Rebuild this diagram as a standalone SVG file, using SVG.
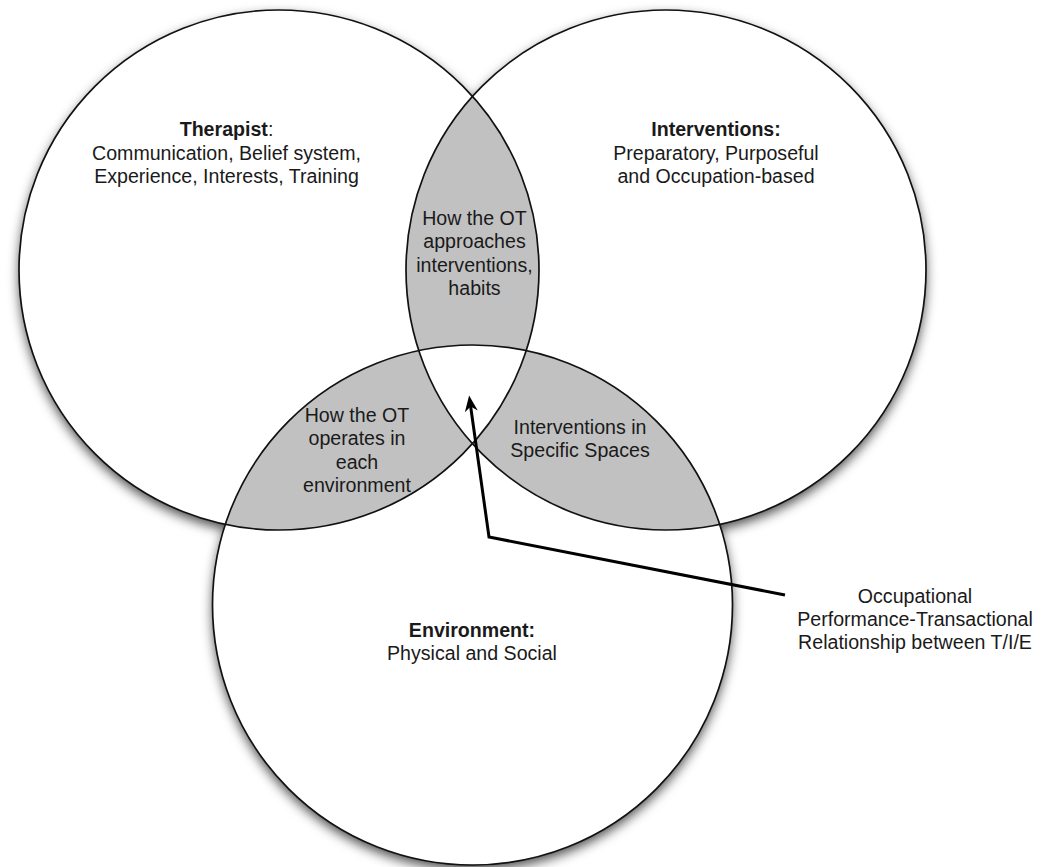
<svg xmlns="http://www.w3.org/2000/svg" width="1041" height="867" viewBox="0 0 1041 867">
  <style>
    .disc { fill: #ffffff; }
    .ring { fill: none; stroke: #111111; stroke-width: 1.7; }
    .overlap { fill: #c1c1c1; stroke: none; }
    text { font-family: "Liberation Sans", Arial, Helvetica, sans-serif; font-size: 19.6px; fill: #1a1a1a; text-anchor: middle; }
    .b { font-weight: bold; }
    .link { fill: none; stroke: #000000; stroke-width: 3; stroke-linejoin: miter; }
  </style>
  <defs>
    <filter id="soft-shadow" x="-10%" y="-10%" width="120%" height="120%">
      <feDropShadow dx="0" dy="5" stdDeviation="6" flood-color="#000000" flood-opacity="0.7"/>
    </filter>
    <marker id="arrowhead" markerUnits="userSpaceOnUse" markerWidth="20" markerHeight="16" viewBox="-8 -8 20 16" refX="0" refY="0" orient="auto">
      <path d="M10,0 L-6,-6.5 L-1,0 L-6,6.5 Z" fill="#000000"/>
    </marker>
  </defs>

  <!-- white discs with a soft drop shadow -->
  <g id="discs" filter="url(#soft-shadow)">
    <circle class="disc" cx="279" cy="270" r="260"/>
    <circle class="disc" cx="666" cy="270" r="260"/>
    <circle class="disc" cx="472.5" cy="605" r="260"/>
  </g>

  <!-- pairwise overlaps (the triple overlap stays white) -->
  <g id="overlaps">
    <path id="overlap-therapist-interventions" class="overlap" d="M472.5,96.34 A260,260 0 0 1 526.19,350.67 A260,260 0 0 0 418.81,350.67 A260,260 0 0 1 472.5,96.34 Z"/>
    <path id="overlap-therapist-environment" class="overlap" d="M225.4,524.3 A260,260 0 0 1 418.81,350.67 A260,260 0 0 0 472.5,443.66 A260,260 0 0 1 225.4,524.3 Z"/>
    <path id="overlap-interventions-environment" class="overlap" d="M719.6,524.3 A260,260 0 0 0 526.19,350.67 A260,260 0 0 1 472.5,443.66 A260,260 0 0 0 719.6,524.3 Z"/>
  </g>

  <g id="node-therapist">
    <circle class="ring" cx="279" cy="270" r="260"/>
    <text x="226.5" y="136"><tspan class="b">Therapist</tspan>:</text>
    <text x="226.5" y="159.5">Communication, Belief system,</text>
    <text x="226.5" y="183">Experience, Interests, Training</text>
  </g>

  <g id="node-interventions">
    <circle class="ring" cx="666" cy="270" r="260"/>
    <text class="b" x="716" y="136">Interventions:</text>
    <text x="716" y="159.5">Preparatory, Purposeful</text>
    <text x="716" y="183">and Occupation-based</text>
  </g>

  <g id="node-environment">
    <circle class="ring" cx="472.5" cy="605" r="260"/>
    <text class="b" x="472" y="637">Environment:</text>
    <text x="472" y="660">Physical and Social</text>
  </g>

  <g id="label-therapist-interventions">
    <text x="474.5" y="225">How the OT</text>
    <text x="474.5" y="248">approaches</text>
    <text x="474.5" y="271.5">interventions,</text>
    <text x="474.5" y="295">habits</text>
  </g>

  <g id="label-therapist-environment">
    <text x="357" y="422">How the OT</text>
    <text x="357" y="445">operates in</text>
    <text x="357" y="468.5">each</text>
    <text x="357" y="492">environment</text>
  </g>

  <g id="label-interventions-environment">
    <text x="580" y="434">Interventions in</text>
    <text x="580" y="457">Specific Spaces</text>
  </g>

  <g id="label-relationship">
    <text x="915" y="603">Occupational</text>
    <text x="915" y="626">Performance-Transactional</text>
    <text x="915" y="649">Relationship between T/I/E</text>
  </g>

  <g id="connectors">
    <polyline class="link" points="785,595 489,537 470.5,405.5" marker-end="url(#arrowhead)"/>
  </g>
</svg>
